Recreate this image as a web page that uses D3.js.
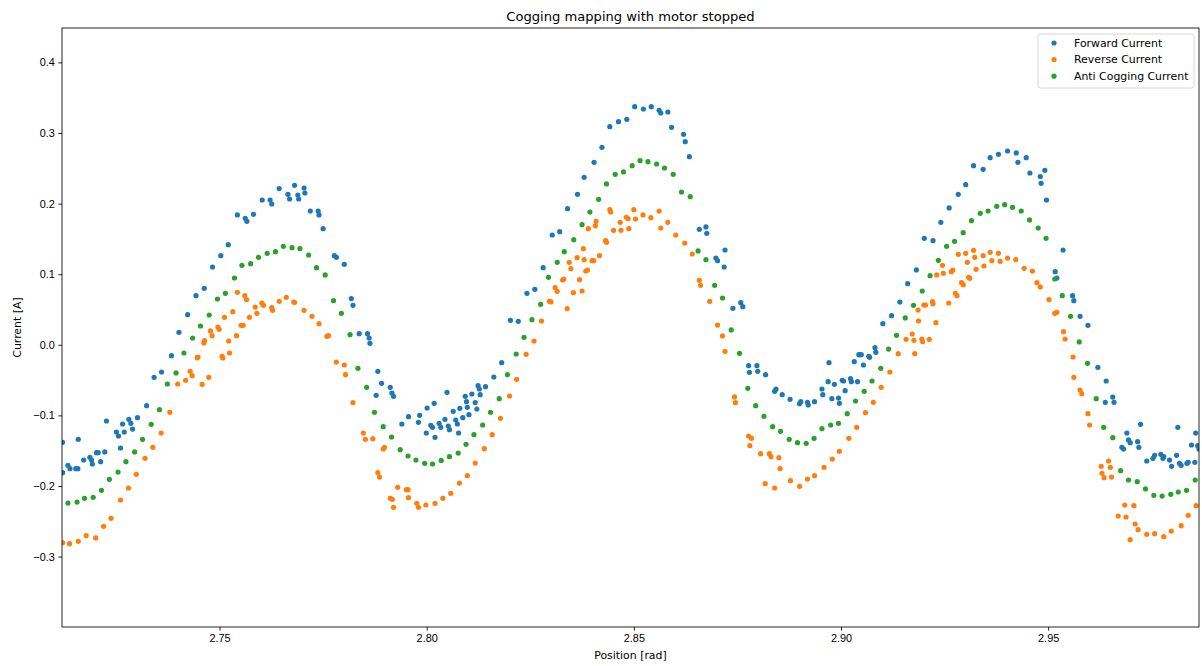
<!DOCTYPE html>
<html lang="en">
  <head>
    <meta charset="utf-8">
    <title>Cogging mapping with motor stopped</title>
    <style>
     body { margin: 0; background: #fff; }
     svg { display: block; font-family: "DejaVu Sans", sans-serif; }
     .tick text { font-size: 10.9px; fill: #000; }
     .tick line { stroke: #000; stroke-width: 0.85px; }
    </style>
  </head>
  <body>
    <div id="plot"></div>
  </body>
  <script src="https://d3js.org/d3.v7.min.js"></script>
  <script>
   // values
   var fwdX = [2.7121,2.7121,2.7134,2.7139,2.7153,2.7158,2.7159,2.7172,2.7187,2.7191,2.7193,2.7203,2.7207,2.7213,2.7223,2.7227,2.7251,2.7256,2.7261,2.7266,2.7270,2.7281,2.7286,2.7290,2.7302,2.7324,2.7342,2.7360,2.7384,2.7402,2.7423,
               2.7443,2.7463,2.7483,2.7503,2.7521,2.7543,2.7562,2.7566,2.7582,2.7603,2.7622,2.7626,2.7644,2.7665,2.7669,2.7681,2.7689,2.7691,2.7704,2.7706,2.7719,
               2.7738,2.7740,2.7750,2.7777,2.7782,2.7801,2.7818,2.7822,2.7837,2.7857,2.7861,2.7863,2.7878,2.7882,2.7891,2.7912,2.7916,2.7920,2.7940,2.7956,2.7980,2.7983,2.7999,2.8001,2.8010,2.8014,2.8018,2.8020,
               2.8030,2.8034,2.8044,2.8049,2.8052,2.8055,2.8064,2.8070,2.8074,2.8077,2.8080,2.8087,2.8093,2.8096,2.8098,2.8102,2.8109,2.8117,2.8121,2.8124,2.8127,2.8129,2.8142,2.8162,2.8181,2.8202,2.8221,2.8242,2.8261,2.8281,2.8303,2.8321,
               2.8340,2.8364,2.8380,2.8404,2.8423,2.8442,2.8463,2.8483,2.8502,2.8523,2.8542,2.8561,2.8565,2.8582,2.8591,2.8620,2.8624,
               2.8634,2.8658,2.8674,2.8676,2.8698,2.8702,2.8718,2.8720,2.8739,2.8758,2.8763,2.8777,2.8779,2.8797,2.8799,2.8818,2.8840,2.8843,2.8858,2.8877,2.8900,2.8903,2.8919,2.8921,
               2.8936,2.8954,2.8956,2.8969,2.8971,2.8978,2.8984,2.8994,2.8996,2.9003,2.9006,2.9010,2.9023,2.9025,2.9032,2.9040,2.9043,2.9046,2.9049,2.9054,2.9067,2.9069,2.9082,2.9084,2.9101,2.9122,2.9142,2.9161,2.9182,2.9201,2.9222,
               2.9241,2.9261,2.9283,2.9301,2.9320,2.9343,2.9360,2.9380,2.9402,2.9423,2.9427,2.9447,2.9456,2.9481,2.9483,2.9492,2.9496,2.9517,2.9521,2.9536,
               2.9559,2.9562,2.9577,2.9596,2.9620,2.9638,2.9640,2.9656,2.9659,2.9678,2.9682,2.9690,2.9694,2.9698,2.9716,2.9719,2.9723,2.9738,2.9753,2.9757,2.9772,2.9777,2.9779,2.9793,2.9798,2.9810,2.9813,2.9817,2.9821,2.9835,2.9838,2.9846,2.9854,2.9856,2.9861,2.9864];
   var fwdY = [-0.1382,-0.1811,-0.1707,-0.1754,-0.1754,-0.1754,-0.1339,-0.1632,-0.1594,-0.1632,-0.1688,-0.1528,-0.1528,-0.1655,-0.1518,-0.1079,-0.1235,-0.1292,-0.1462,-0.1122,-0.1235,-0.1056,-0.1112,-0.1193,-0.1032,-0.0862,-0.0461,-0.0385,-0.0154,0.0177,0.0427,
               0.0696,0.0800,0.1102,0.1263,0.1418,0.1839,0.1791,0.1749,0.1848,0.2051,0.2051,0.1994,0.2212,0.2131,0.2065,0.2259,0.2122,0.2065,0.2221,0.2150,0.1895,
               0.1895,0.1839,0.1645,0.1263,0.1239,0.1140,0.0654,0.0559,0.0158,0.0158,0.0096,0.0021,-0.0716,-0.0376,-0.0546,-0.0602,-0.0683,-0.0730,-0.1122,-0.1018,-0.1098,-0.0999,-0.1249,-0.0895,-0.1140,-0.1169,-0.0829,-0.1311,
               -0.1112,-0.1169,-0.1056,-0.0673,-0.1150,-0.1202,-0.0942,-0.1065,-0.1122,-0.1249,-0.0900,-0.1032,-0.0730,-0.0805,-0.0886,-0.0990,-0.0697,-0.0819,-0.0909,-0.0579,-0.0626,-0.0706,-0.0593,-0.0456,-0.0253,0.0347,0.0332,0.0729,0.0785,0.1093,0.1555,0.1602,
               0.1928,0.2131,0.2372,0.2585,0.2797,0.3090,0.3160,0.3194,0.3373,0.3340,0.3373,0.3321,0.3283,0.3297,0.3080,0.2981,0.2877,
               0.2665,0.1636,0.1669,0.1579,0.1229,0.1192,0.1102,0.1343,0.0517,0.0597,0.0540,-0.0296,-0.0390,-0.0296,-0.0376,-0.0423,-0.0659,-0.0626,-0.0706,-0.0772,-0.0834,-0.0805,-0.0815,-0.0853,
               -0.0805,-0.0626,-0.0706,-0.0522,-0.0253,-0.0763,-0.0560,-0.0754,-0.0829,-0.0503,-0.0513,-0.0650,-0.0480,-0.0522,-0.0239,-0.0522,-0.0140,-0.0140,-0.0140,-0.0286,-0.0163,-0.0178,-0.0041,-0.0107,0.0299,0.0413,0.0606,0.0866,0.1060,0.1508,0.1475,
               0.1735,0.1938,0.2131,0.2268,0.2537,0.2485,0.2651,0.2698,0.2745,0.2717,0.2584,0.2651,0.2433,0.2382,0.2287,0.2471,0.2051,0.1036,0.0946,0.1343,
               0.0696,0.0625,0.0403,0.0276,-0.0319,-0.0815,-0.0513,-0.0740,-0.0815,-0.1452,-0.1476,-0.1249,-0.1348,-0.1386,-0.1372,-0.1452,-0.1127,-0.1646,-0.1608,-0.1566,-0.1552,-0.1608,-0.1585,-0.1632,-0.1721,-0.1566,-0.1169,-0.1679,-0.1707,-0.1679,-0.1665,-0.1419,-0.1665,-0.1249,-0.1429,-0.1476];

   var revX = [2.7121,2.7138,2.7159,2.7178,2.7201,2.7220,2.7238,2.7261,2.7280,2.7299,2.7320,2.7339,2.7359,2.7380,2.7399,2.7418,
               2.7429,2.7434,2.7446,2.7448,2.7458,2.7462,2.7464,2.7474,2.7478,2.7482,2.7496,2.7499,2.7506,2.7508,2.7512,2.7522,2.7524,2.7532,2.7541,2.7543,2.7552,2.7557,2.7561,2.7565,2.7572,2.7586,2.7590,2.7602,2.7606,2.7626,2.7628,2.7644,2.7661,2.7679,2.7681,2.7704,2.7723,
               2.7740,2.7759,2.7763,2.7782,2.7801,2.7804,2.7822,2.7847,2.7852,2.7870,2.7882,2.7886,2.7895,2.7898,2.7912,2.7917,2.7920,2.7930,2.7951,2.7955,2.7956,2.7976,2.7980,2.7998,2.8020,
               2.8039,2.8058,2.8079,2.8098,2.8117,2.8139,2.8158,2.8178,2.8200,2.8217,2.8240,2.8259,2.8277,2.8296,2.8300,2.8310,2.8315,
               2.8328,2.8331,2.8339,2.8344,2.8348,2.8354,2.8363,2.8369,2.8375,2.8378,2.8380,2.8384,2.8388,2.8390,2.8399,2.8403,2.8407,2.8409,2.8417,2.8432,2.8434,2.8442,2.8444,2.8451,2.8467,2.8469,2.8482,2.8486,2.8488,2.8500,2.8504,2.8522,2.8541,2.8561,2.8565,2.8582,2.8601,2.8623,
               2.8641,2.8658,2.8661,2.8683,2.8702,2.8714,2.8720,2.8743,2.8745,2.8777,2.8780,2.8784,2.8806,2.8817,2.8827,2.8831,2.8840,2.8850,2.8853,2.8878,2.8900,2.8919,
               2.8936,2.8959,2.8979,2.8996,2.9019,2.9038,2.9059,2.9078,2.9097,2.9118,2.9138,2.9157,2.9172,2.9176,2.9178,2.9186,2.9187,2.9195,2.9197,2.9200,2.9204,2.9213,2.9221,2.9222,2.9229,2.9231,
               2.9245,2.9247,2.9260,2.9266,2.9270,2.9276,2.9280,2.9283,2.9291,2.9295,2.9301,2.9305,2.9308,2.9311,2.9320,2.9323,2.9326,2.9343,2.9345,2.9360,2.9364,2.9380,2.9384,2.9402,2.9422,2.9442,2.9462,2.9473,2.9481,2.9502,2.9516,2.9521,
               2.9537,2.9541,2.9560,2.9562,2.9577,2.9581,2.9596,2.9600,2.9628,2.9630,2.9635,2.9646,2.9650,2.9653,2.9669,2.9685,2.9688,2.9698,2.9707,2.9710,2.9717,2.9738,2.9757,2.9779,2.9797,2.9821,2.9838,2.9857];
   var revY = [-0.2803,-0.2817,-0.2784,-0.2703,-0.2736,-0.2571,-0.2458,-0.2198,-0.2028,-0.1835,-0.1608,-0.1452,-0.1249,-0.0957,-0.0555,-0.0503,
               -0.0376,-0.0437,-0.0182,-0.0173,-0.0560,0.0026,0.0059,-0.0461,0.0196,0.0129,0.0252,0.0219,-0.0163,-0.0187,0.0389,0.0054,-0.0116,0.0469,0.0129,0.0743,0.0276,0.0276,0.0696,0.0639,0.0389,0.0535,0.0446,0.0592,0.0559,0.0526,0.0488,0.0616,0.0672,0.0606,0.0601,0.0488,0.0403,
               0.0299,0.0120,0.0129,-0.0244,-0.0286,-0.0423,-0.0820,-0.1249,-0.1339,-0.1330,-0.1811,-0.1873,-0.1476,-0.1452,-0.2175,-0.2189,-0.2302,-0.2019,-0.2052,-0.2052,-0.2165,-0.2245,-0.2302,-0.2269,-0.2245,
               -0.2175,-0.2104,-0.1958,-0.1854,-0.1674,-0.1471,-0.1273,-0.1042,-0.0725,-0.0489,-0.0135,0.0054,0.0337,0.0616,0.0607,0.0809,0.0757,
               0.0918,0.0932,0.0512,0.1168,0.1078,0.0738,0.1234,0.0922,0.0762,0.1362,0.1206,0.1045,0.1059,0.1645,0.1192,0.1192,0.1687,0.1749,0.1262,0.1475,0.1451,0.1914,0.1881,0.1621,0.1735,0.1621,0.1805,0.1786,0.1645,0.1914,0.1782,0.1839,0.1801,0.1895,0.1654,0.1735,0.1555,0.1442,
               0.1286,0.0913,0.0842,0.0616,0.0280,0.0125,-0.0093,-0.0739,-0.0820,-0.1292,-0.1429,-0.1325,-0.1542,-0.1967,-0.1542,-0.1585,-0.2028,-0.1599,-0.1755,-0.1925,-0.2005,-0.1901,
               -0.1854,-0.1736,-0.1618,-0.1509,-0.1325,-0.1169,-0.0961,-0.0815,-0.0602,-0.0385,-0.0126,0.0077,0.0153,0.0063,-0.0126,0.0493,0.0337,0.0082,0.0044,0.0564,0.0564,0.0077,0.0611,0.0583,0.0314,0.0989,
               0.1126,0.1012,0.0592,0.1036,0.1059,0.0729,0.0696,0.1281,0.0880,0.0852,0.1296,0.1168,0.0956,0.0942,0.1338,0.1239,0.1069,0.1263,0.1116,0.1310,0.1192,0.1296,0.1182,0.1229,0.1206,0.1083,0.1045,0.0880,0.0819,0.0639,0.0446,0.0460,
               0.0186,0.0082,-0.0173,-0.0461,-0.0640,-0.0692,-0.0975,-0.1136,-0.1721,-0.1821,-0.1882,-0.1646,-0.1736,-0.1873,-0.2425,-0.2269,-0.2439,-0.2760,-0.2279,-0.2538,-0.2619,-0.2684,-0.2675,-0.2718,-0.2637,-0.2562,-0.2415,-0.2279];

   var antiX = [2.7134,2.7156,2.7174,2.7195,2.7215,2.7234,2.7255,2.7274,2.7295,2.7314,2.7335,2.7355,2.7374,2.7395,2.7414,2.7435,2.7454,2.7475,2.7495,2.7514,2.7536,2.7554,2.7575,2.7594,2.7615,2.7635,2.7654,2.7675,2.7694,2.7715,
                2.7734,2.7755,2.7775,2.7794,2.7815,2.7834,2.7855,2.7874,2.7895,2.7915,2.7936,2.7955,2.7974,2.7995,2.8014,2.8035,2.8055,2.8076,2.8095,2.8114,2.8135,2.8154,2.8175,2.8195,2.8216,2.8235,2.8254,2.8275,2.8294,2.8315,
                2.8332,2.8355,2.8375,2.8394,2.8415,2.8434,2.8455,2.8475,2.8496,2.8515,2.8534,2.8555,2.8574,2.8595,2.8615,2.8636,2.8655,2.8674,2.8695,2.8714,2.8735,2.8755,2.8775,2.8794,2.8814,2.8835,2.8854,2.8875,2.8895,2.8916,
                2.8935,2.8954,2.8975,2.8994,2.9015,2.9035,2.9056,2.9075,2.9096,2.9115,2.9134,2.9155,2.9175,2.9196,2.9215,2.9235,2.9255,2.9274,2.9295,2.9315,2.9336,2.9355,2.9376,2.9395,2.9414,2.9435,2.9455,2.9476,2.9495,2.9516,
                2.9534,2.9554,2.9575,2.9595,2.9616,2.9634,2.9656,2.9675,2.9694,2.9715,2.9735,2.9755,2.9775,2.9796,2.9814,2.9834,2.9855];
   var antiY = [-0.2241,-0.2227,-0.2175,-0.2160,-0.2061,-0.1906,-0.1802,-0.1655,-0.1518,-0.1339,-0.1127,-0.0919,-0.0555,-0.0399,-0.0116,0.0096,0.0266,0.0422,0.0649,0.0729,0.0946,0.1126,0.1149,0.1239,0.1296,0.1319,0.1395,0.1376,0.1362,0.1272,
                0.1093,0.0989,0.0625,0.0446,0.0144,-0.0333,-0.0602,-0.0957,-0.1160,-0.1306,-0.1485,-0.1575,-0.1632,-0.1679,-0.1688,-0.1637,-0.1585,-0.1533,-0.1410,-0.1273,-0.1136,-0.0957,-0.0763,-0.0423,-0.0130,0.0106,0.0356,0.0573,0.0956,0.1168,
                0.1319,0.1489,0.1702,0.1881,0.2060,0.2278,0.2415,0.2448,0.2537,0.2608,0.2594,0.2561,0.2504,0.2415,0.2164,0.2098,0.1329,0.1206,0.0842,0.0663,0.0210,-0.0121,-0.0617,-0.0862,-0.1013,-0.1160,-0.1226,-0.1339,-0.1386,-0.1396,
                -0.1325,-0.1188,-0.1136,-0.1112,-0.0976,-0.0796,-0.0659,-0.0513,-0.0333,-0.0060,0.0134,0.0380,0.0559,0.0762,0.0979,0.1196,0.1395,0.1466,0.1588,0.1758,0.1862,0.1895,0.1961,0.1985,0.1947,0.1895,0.1768,0.1654,0.1508,0.0932,
                0.0696,0.0403,0.0040,-0.0263,-0.0763,-0.1169,-0.1315,-0.1783,-0.1915,-0.1939,-0.2042,-0.2132,-0.2142,-0.2118,-0.2085,-0.2061,-0.1915];

   var seriesNames = ["Forward Current", "Reverse Current", "Anti Cogging Current"];
   var seriesColors = ["#1f77b4", "#ff7f0e", "#2ca02c"];
   var xTicks = [2.75, 2.80, 2.85, 2.90, 2.95];
   var yTicks = [-0.3, -0.2, -0.1, 0.0, 0.1, 0.2, 0.3, 0.4];

   var width = 1202, height = 666,
       margin = {top: 28, right: 3, bottom: 39, left: 62},
       iw = width - margin.left - margin.right,
       ih = height - margin.top - margin.bottom;

   var svg = d3.select("#plot").append("svg")
               .attr("width", width)
               .attr("height", height);

   var x = d3.scaleLinear().domain([2.71197, 2.98641]).range([0, iw]);
   var y = d3.scaleLinear().domain([-0.3997, 0.4487]).range([ih, 0]);

   var g = svg.append("g").attr("transform", "translate(" + margin.left + "," + margin.top + ")");

   var minus = function(s) { return s.replace("-", "\u2212"); };

   var xAxis = g.append("g")
                .attr("transform", "translate(0," + ih + ")")
                .call(d3.axisBottom(x).tickValues(xTicks).tickSize(3.7).tickPadding(3.5)
                        .tickFormat(function(d) { return minus(d3.format(".2f")(d)); }));
   xAxis.select(".domain").remove();

   var yAxis = g.append("g")
                .call(d3.axisLeft(y).tickValues(yTicks).tickSize(3.7).tickPadding(3.5)
                        .tickFormat(function(d) { return minus(d3.format(".1f")(d)); }));
   yAxis.select(".domain").remove();

   var data = [
     d3.zip(fwdX, fwdY),
     d3.zip(revX, revY),
     d3.zip(antiX, antiY)
   ];

   svg.append("clipPath").attr("id", "clip")
      .append("rect").attr("width", iw).attr("height", ih);

   var pts = g.append("g").attr("clip-path", "url(#clip)");
   data.forEach(function(d, i) {
     pts.append("g")
        .selectAll("circle")
        .data(d)
        .enter()
        .append("circle")
        .attr("cx", function(p) { return x(p[0]); })
        .attr("cy", function(p) { return y(p[1]); })
        .attr("r", 2.6)
        .attr("fill", seriesColors[i]);
   });

   // frame
   g.append("rect")
    .attr("width", iw)
    .attr("height", ih)
    .attr("fill", "none")
    .attr("stroke", "#000")
    .attr("stroke-width", 0.85);

   // title and labels
   svg.append("text")
      .attr("x", margin.left + iw / 2)
      .attr("y", 21)
      .attr("text-anchor", "middle")
      .style("font-size", "13.1px")
      .text("Cogging mapping with motor stopped");

   svg.append("text")
      .attr("x", margin.left + iw / 2)
      .attr("y", 659)
      .attr("text-anchor", "middle")
      .style("font-size", "10.9px")
      .text("Position [rad]");

   svg.append("text")
      .attr("transform", "translate(21," + (margin.top + ih / 2) + ") rotate(-90)")
      .attr("text-anchor", "middle")
      .style("font-size", "10.9px")
      .text("Current [A]");

   // legend
   var lg = svg.append("g").attr("transform", "translate(1038,34)");
   lg.append("rect")
     .attr("width", 156)
     .attr("height", 54)
     .attr("rx", 2.5)
     .attr("fill", "#fff")
     .attr("fill-opacity", 0.8)
     .attr("stroke", "#cccccc")
     .attr("stroke-width", 0.8);
   seriesNames.forEach(function(name, i) {
     var row = lg.append("g").attr("transform", "translate(0," + (9 + i * 16.6) + ")");
     row.append("circle").attr("cx", 16).attr("cy", 0).attr("r", 2.6).attr("fill", seriesColors[i]);
     row.append("text")
        .attr("x", 36)
        .attr("y", 0)
        .attr("dy", "0.35em")
        .style("font-size", "10.9px")
        .text(name);
   });
  </script>
</html>
